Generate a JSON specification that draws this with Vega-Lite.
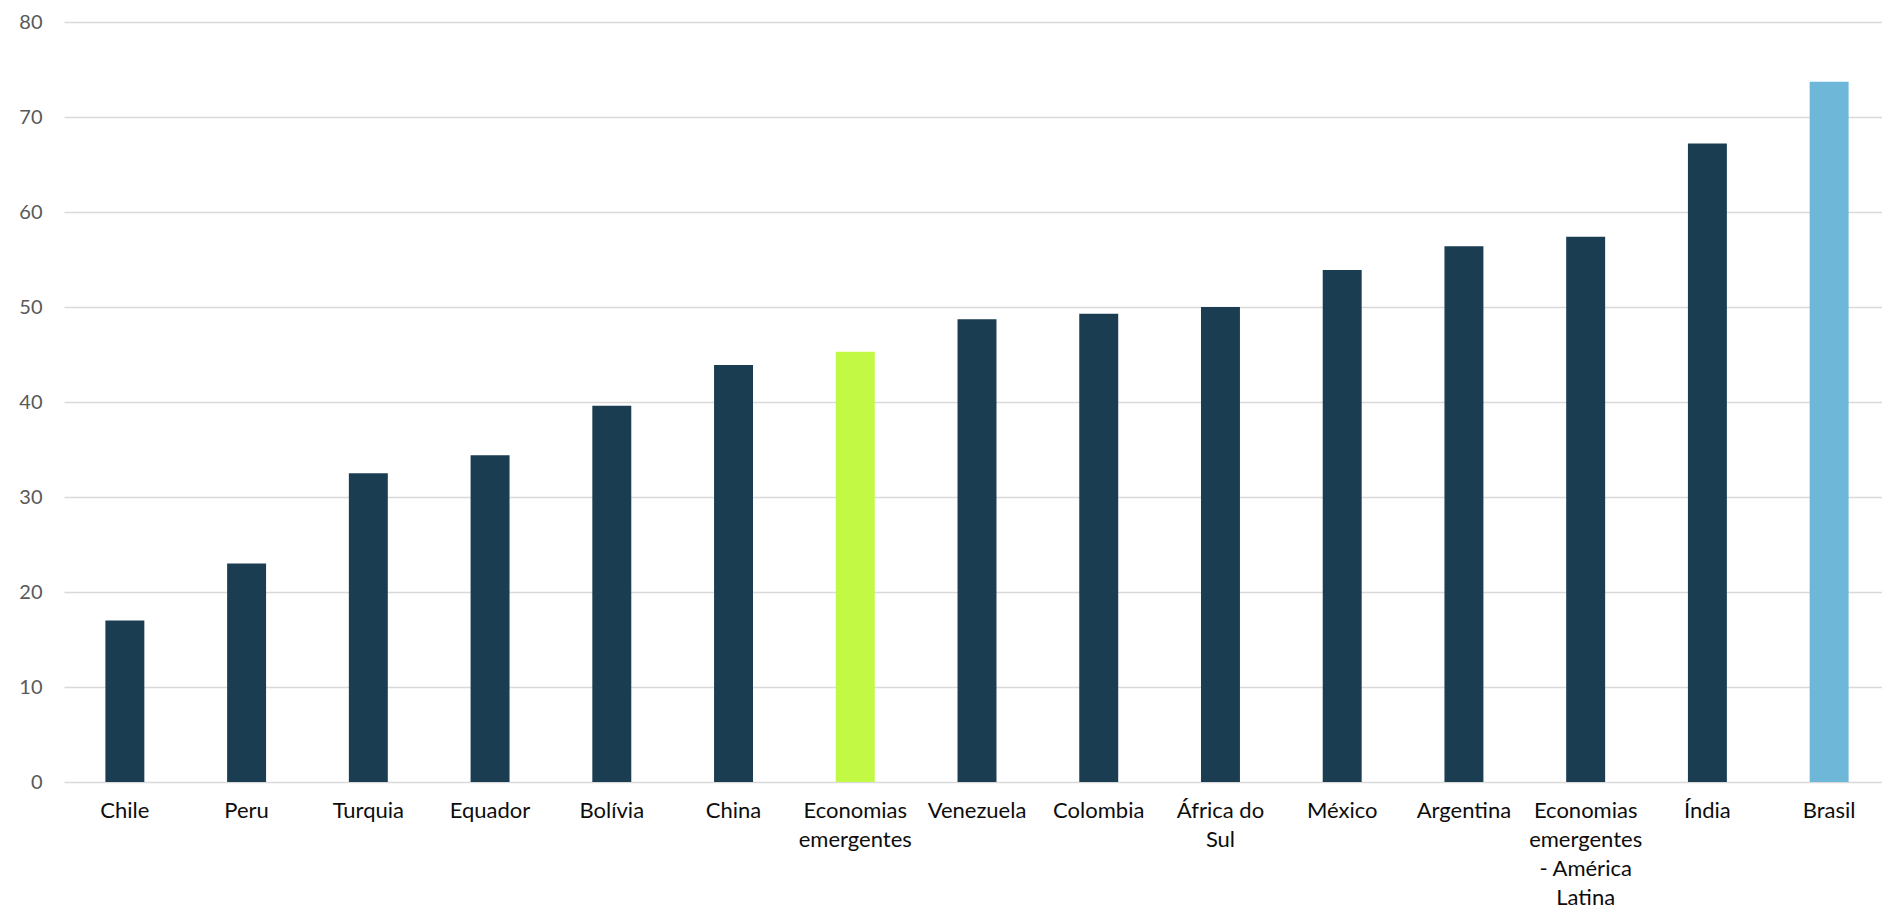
{
  "$schema": "https://vega.github.io/schema/vega-lite/v6.json",
  "autosize": "none",
  "width": 1816,
  "height": 760,
  "padding": {"left": 64, "top": 22, "right": 2, "bottom": 130},
  "background": "white",
  "data": {
    "values": [
      {"pais": "Chile", "valor": 17.0, "grupo": "país"},
      {"pais": "Peru", "valor": 23.0, "grupo": "país"},
      {"pais": "Turquia", "valor": 32.5, "grupo": "país"},
      {"pais": "Equador", "valor": 34.4, "grupo": "país"},
      {"pais": "Bolívia", "valor": 39.6, "grupo": "país"},
      {"pais": "China", "valor": 43.9, "grupo": "país"},
      {"pais": "Economias\nemergentes", "valor": 45.3, "grupo": "emergentes"},
      {"pais": "Venezuela", "valor": 48.7, "grupo": "país"},
      {"pais": "Colombia", "valor": 49.3, "grupo": "país"},
      {"pais": "África do\nSul", "valor": 50.0, "grupo": "país"},
      {"pais": "México", "valor": 53.9, "grupo": "país"},
      {"pais": "Argentina", "valor": 56.4, "grupo": "país"},
      {"pais": "Economias\nemergentes\n- América\nLatina", "valor": 57.4, "grupo": "país"},
      {"pais": "Índia", "valor": 67.2, "grupo": "país"},
      {"pais": "Brasil", "valor": 73.7, "grupo": "Brasil"}
    ]
  },
  "mark": {"type": "bar"},
  "encoding": {
    "x": {
      "field": "pais",
      "type": "nominal",
      "sort": null,
      "scale": {"paddingInner": 0.68, "paddingOuter": 0.34, "range": [0, 1826]},
      "axis": {
        "title": null,
        "labelAngle": 0,
        "labelExpr": "split(datum.label, '\\n')",
        "labelFont": "Lato",
        "labelFontSize": 22,
        "labelLineHeight": 29,
        "labelColor": "#0d0d0d",
        "labelPadding": 18,
        "labelBaseline": "top",
        "ticks": false,
        "domain": false,
        "grid": false
      }
    },
    "y": {
      "field": "valor",
      "type": "quantitative",
      "scale": {"domain": [0, 80], "nice": false},
      "axis": {
        "title": null,
        "values": [0, 10, 20, 30, 40, 50, 60, 70, 80],
        "labelFont": "Lato",
        "labelFontSize": 20,
        "labelColor": "#595959",
        "labelPadding": 22,
        "ticks": false,
        "domain": false,
        "grid": true,
        "gridColor": "#d9d9d9",
        "gridWidth": 1.5
      }
    },
    "color": {
      "field": "grupo",
      "type": "nominal",
      "scale": {"domain": ["país", "emergentes", "Brasil"], "range": ["#1a3d51", "#c1f945", "#6fb7d8"]},
      "legend": null
    }
  },
  "config": {"view": {"stroke": null}}
}
